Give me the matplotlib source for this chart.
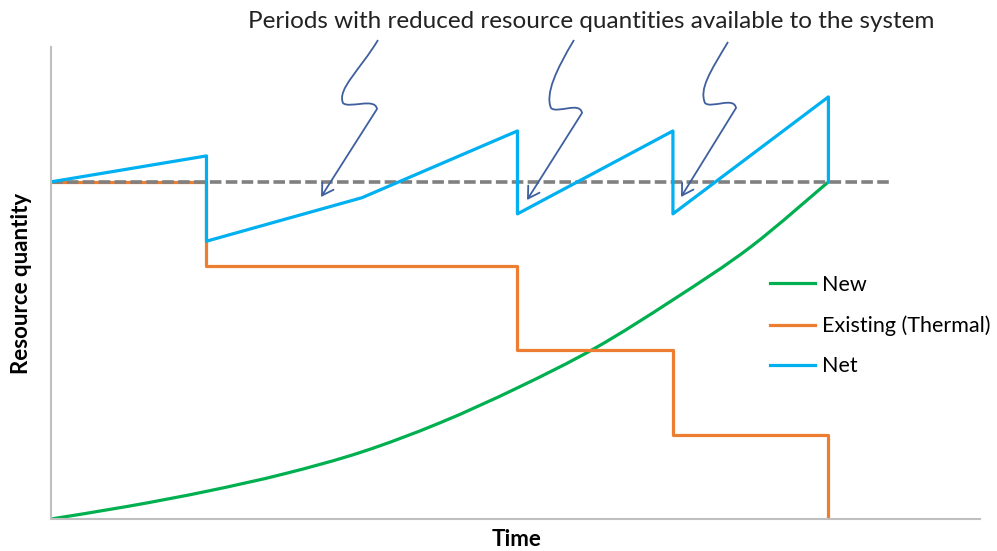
import numpy as np
import matplotlib.pyplot as plt
from matplotlib.path import Path
from matplotlib.patches import PathPatch
from matplotlib.lines import Line2D
from matplotlib.transforms import Affine2D

plt.rcParams['font.family'] = ['Lato', 'DejaVu Sans']

# time points (one unit = one period)
new_x = [0, 0.5, 1, 1.5, 2, 2.5, 3, 3.5, 4, 4.5, 5]
new_y = [0, 3.8, 8.2, 13.4, 19.9, 28.5, 38.9, 50.7, 65, 80.7, 100]

existing_x = [0, 1, 1, 3, 3, 4, 4, 5, 5]
existing_y = [100, 100, 75, 75, 50, 50, 25, 25, 0]

net_x = [0, 1, 1, 2, 3, 3, 4, 4, 5, 5]
net_y = [100, 107.7, 82.4, 95.3, 115.1, 90.5, 115.1, 90.5, 125.2, 100]

ref_level = 100
ref_end = 5.41

labels = ['New', 'Existing (Thermal)', 'Net']
colors = ['#00B050', '#ED7D31', '#00B0F0']
title_text = 'Periods with reduced resource quantities available to the system'


def smooth_path(xs, ys):
    # excel style smoothed line: catmull-rom segments as cubic beziers
    p = np.column_stack([xs, ys]).astype(float)
    verts = [p[0]]
    codes = [Path.MOVETO]
    n = len(p)
    for i in range(n - 1):
        p0 = p[max(i - 1, 0)]
        p3 = p[min(i + 2, n - 1)]
        c1 = p[i] + (p[i + 1] - p0) / 6
        c2 = p[i + 1] - (p3 - p[i]) / 6
        verts += [c1, c2, p[i + 1]]
        codes += [Path.CURVE4] * 3
    return Path(verts, codes)


fig = plt.figure(figsize=(9.97, 5.51), dpi=100)
ax = fig.add_axes([51/997, 32/551, 929/997, 472/551])

lw = 2.3
ax.add_patch(PathPatch(smooth_path(new_x, new_y), fc='none', ec=colors[0], lw=lw))
ax.plot(existing_x, existing_y, color=colors[1], lw=lw)
ax.plot([0, ref_end], [ref_level, ref_level], color='#808080', lw=2.6, dashes=(3.2, 1.2))
ax.plot(net_x, net_y, color=colors[2], lw=lw)

ax.set_xlim(0, 5.975)
ax.set_ylim(0, 140)
for s in ['top', 'right']:
    ax.spines[s].set_visible(False)
for s in ['left', 'bottom']:
    ax.spines[s].set_color('#BFBFBF')
    ax.spines[s].set_linewidth(1.5)
ax.set_xticks([])
ax.set_yticks([])

fig.text(22/997, 1 - 283/551, 'Resource quantity', rotation=90, ha='center', va='center',
         fontsize=16, fontweight='bold')
fig.text(517/997, 1 - 540/551, 'Time', ha='center', va='center', fontsize=16, fontweight='bold')
fig.text(591/997, 1 - 22/551, title_text, ha='center', va='center', fontsize=17.5, color='#222222')

handles = [Line2D([], [], color=c, lw=lw) for c in colors]
ax.legend(handles, labels, loc='upper left', bbox_to_anchor=(770/997, 1 - 275/551),
          bbox_transform=fig.transFigure, frameon=False, fontsize=15.5, handlelength=2.1,
          handletextpad=0.3, labelspacing=0.95, borderaxespad=0, borderpad=0)

# lightning arrows drawn in pixel coords (origin top-left)
px = Affine2D().scale(1/997, -1/551).translate(0, 1) + fig.transFigure
arrow_col = '#3F5F9E'
bolts = [
    ((378, 40), (343, 103), (377, 109), (321, 197)),
    ((574, 40), (551, 108), (582, 113), (527, 200)),
    ((728, 42), (705, 103), (736, 108), (681, 197)),
]
for top, left, right, tip in bolts:
    verts = [top,
             (top[0] - 18, top[1] + 30), (left[0] - 6, left[1] - 14), left,
             (left[0] + 6, left[1] + 6), (right[0] - 2, right[1] - 12), right,
             ]
    codes = [Path.MOVETO, Path.CURVE4, Path.CURVE4, Path.CURVE4,
             Path.CURVE4, Path.CURVE4, Path.CURVE4]
    fig.add_artist(PathPatch(Path(verts, codes), fc='none', ec=arrow_col, lw=1.3, transform=px))
    ax.annotate('', xy=tip, xycoords=px, xytext=right, textcoords=px,
                arrowprops=dict(arrowstyle='->,head_length=0.5,head_width=0.3', color=arrow_col,
                                lw=1.3, shrinkA=0, shrinkB=0, mutation_scale=16),
                annotation_clip=False)

fig.savefig('out.png', dpi=100)
